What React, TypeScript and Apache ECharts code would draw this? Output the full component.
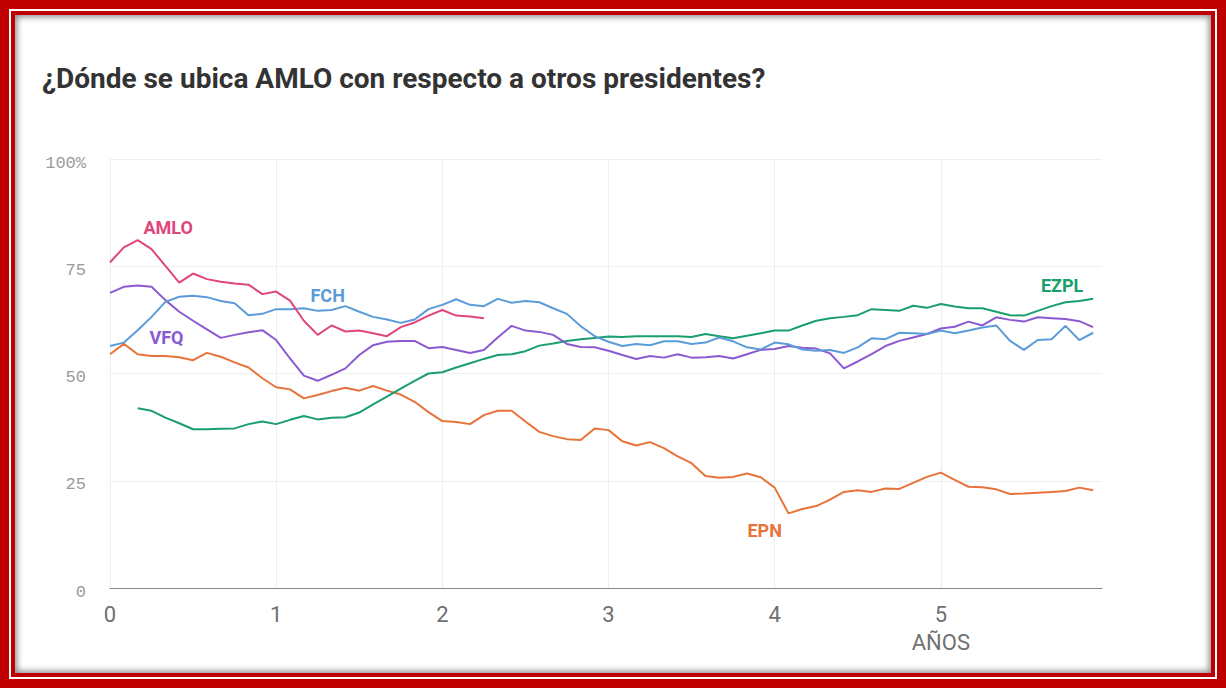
import React, { useEffect, useRef } from "react";
import * as echarts from "echarts";

// Monthly approval values (%), index = months since start of term
const amlo = [75.9,79.4,81.1,79.0,75.1,71.2,73.3,72.0,71.4,71.0,70.7,68.5,69.1,67.0,62.3,59.0,61.2,59.8,60.0,59.4,58.7,60.8,61.9,63.5,64.8,63.5,63.3,62.9];
const fch = [56.4,57.2,60.1,63.2,66.7,67.9,68.1,67.8,66.9,66.4,63.6,63.9,65.0,65.0,65.2,64.6,64.8,65.7,64.4,63.2,62.6,61.8,62.6,65.0,66.0,67.3,66.0,65.7,67.4,66.5,66.9,66.6,65.2,63.9,61.0,58.7,57.4,56.4,56.9,56.6,57.5,57.5,56.9,57.2,58.4,57.5,56.1,55.6,57.2,56.8,55.6,55.3,55.5,54.8,56.1,58.2,58.0,59.5,59.4,59.2,60.0,59.4,60.0,60.7,61.2,57.6,55.5,57.8,58.0,61.1,57.8,59.5];
const vfq = [68.8,70.2,70.5,70.2,67.1,64.4,62.3,60.3,58.3,59.0,59.6,60.1,57.8,53.5,49.5,48.3,49.7,51.2,54.3,56.6,57.4,57.6,57.6,55.9,56.2,55.5,54.8,55.5,58.4,61.1,60.0,59.7,59.0,56.9,56.2,56.1,55.3,54.3,53.4,54.1,53.7,54.5,53.7,53.8,54.1,53.5,54.5,55.5,55.7,56.4,56.0,55.8,54.7,51.2,52.8,54.5,56.4,57.6,58.4,59.2,60.5,60.9,62.1,61.2,63.1,62.5,62.1,63.1,62.9,62.7,62.2,60.8];
const ezplStart = 2;
const ezpl = [41.9,41.3,39.7,38.4,37.0,37.0,37.1,37.2,38.2,38.8,38.2,39.2,40.1,39.3,39.7,39.8,40.9,42.8,44.6,46.5,48.3,50.0,50.3,51.4,52.4,53.4,54.3,54.5,55.2,56.5,57.0,57.6,58.0,58.3,58.6,58.5,58.7,58.7,58.7,58.7,58.5,59.2,58.7,58.2,58.8,59.4,60.0,60.0,61.2,62.3,62.9,63.2,63.6,65.0,64.8,64.6,65.8,65.3,66.2,65.6,65.2,65.2,64.4,63.6,63.5,64.6,65.7,66.6,66.9,67.4];
const epn = [54.5,56.9,54.5,54.1,54.1,53.8,53.1,54.8,53.9,52.6,51.4,48.9,46.8,46.3,44.2,45.0,45.9,46.7,46.0,47.1,46.0,45.1,43.4,41.0,38.9,38.7,38.2,40.3,41.3,41.3,38.8,36.4,35.4,34.7,34.5,37.2,36.8,34.2,33.2,34.0,32.6,30.7,29.1,26.1,25.7,25.9,26.7,25.8,23.4,17.4,18.4,19.1,20.6,22.4,22.8,22.4,23.2,23.1,24.5,25.9,26.9,25.2,23.6,23.5,23.0,21.9,22.0,22.2,22.4,22.6,23.4,22.8];

const seriesNames = ["AMLO", "FCH", "VFQ", "EZPL", "EPN"];
const seriesColors = ["#e0457b", "#5b9bd8", "#8a5ad0", "#1a9e6e", "#e8733a"];
// label anchor positions in data space (years, %)
const labelX = [0.35, 1.31, 0.34, 5.73, 3.94];
const labelY = [84.1, 68.1, 58.5, 70.4, 13.3];

const yTicks = [0, 25, 50, 75, 100];
const xTicks = [0, 1, 2, 3, 4, 5];

function toPoints(values: number[], start = 0) {
  return values.map((v, i) => [(i + start) / 12, v]);
}

export default function App() {
  const ref = useRef<HTMLDivElement>(null);
  useEffect(() => {
    if (!ref.current) return;
    const chart = echarts.init(ref.current, null, { renderer: "svg" });
    const datasets = [toPoints(amlo), toPoints(fch), toPoints(vfq), toPoints(ezpl, ezplStart), toPoints(epn)];
    chart.setOption({
      animation: false,
      backgroundColor: "transparent",
      title: {
        text: "¿Dónde se ubica AMLO con respecto a otros presidentes?",
        left: 37,
        top: 59,
        textStyle: { fontFamily: "Roboto", fontSize: 28, fontWeight: "bold", color: "#333333" },
      },
      grid: { left: 110, right: 124, top: 159, bottom: 100 },
      xAxis: {
        type: "value",
        min: 0,
        max: 5.97,
        interval: 1,
        axisLine: { show: true, lineStyle: { color: "#8a8a8a", width: 1 } },
        axisTick: { show: false },
        splitLine: { show: true, showMaxLine: false, lineStyle: { color: "#eeeeee", width: 1 } },
        axisLabel: {
          showMaxLabel: false,
          margin: 12,
          fontFamily: "'Liberation Sans Narrow', Roboto, sans-serif",
          fontSize: 22,
          lineHeight: 28,
          color: "#707070",
          formatter: (v: number) => (xTicks.indexOf(v) >= 0 ? (v === 5 ? "5\nAÑOS" : String(v)) : ""),
        },
      },
      yAxis: {
        type: "value",
        min: 0,
        max: 100,
        interval: 25,
        axisLine: { show: false },
        axisTick: { show: false },
        splitLine: { show: true, lineStyle: { color: "#efefef", width: 1 } },
        axisLabel: {
          margin: 24,
          verticalAlign: "top",
          lineHeight: 8,
          fontFamily: "'Liberation Mono', 'DejaVu Sans Mono', monospace",
          fontSize: 17,
          color: "#9a9a9a",
          formatter: (v: number) => (yTicks.indexOf(v) >= 0 ? (v === 100 ? "100%" : String(v)) : ""),
        },
      },
      series: datasets.map((d, k) => ({
        type: "line",
        name: seriesNames[k],
        data: d,
        symbol: "none",
        smooth: false,
        lineStyle: { color: seriesColors[k], width: 2 },
        itemStyle: { color: seriesColors[k] },
        z: 5 - k,
        markPoint: {
          symbol: "circle",
          symbolSize: 0,
          data: [
            {
              coord: [labelX[k], labelY[k]],
              label: {
                show: true,
                position: "inside",
                formatter: seriesNames[k],
                color: seriesColors[k],
                fontFamily: "Roboto",
                fontWeight: "bold",
                fontSize: 18,
              },
            },
          ],
        },
      })),
    });
    return () => chart.dispose();
  }, []);

  return (
    <div style={{ position: "fixed", left: 0, top: 0, width: 1226, height: 688, background: "#c00000" }}>
      <div
        style={{
          position: "absolute",
          left: 9,
          top: 9,
          width: 1208,
          height: 670,
          border: "2px solid #ffffff",
          boxSizing: "border-box",
          background: "#c00000",
        }}
      />
      <div
        style={{
          position: "absolute",
          left: 15,
          top: 15,
          width: 1196,
          height: 658,
          background: "#ffffff",
          boxShadow: "inset 0 0 6px 2px rgba(0,0,0,0.45)",
        }}
      />
      <div ref={ref} style={{ position: "absolute", left: 0, top: 0, width: 1226, height: 688 }} />
    </div>
  );
}
